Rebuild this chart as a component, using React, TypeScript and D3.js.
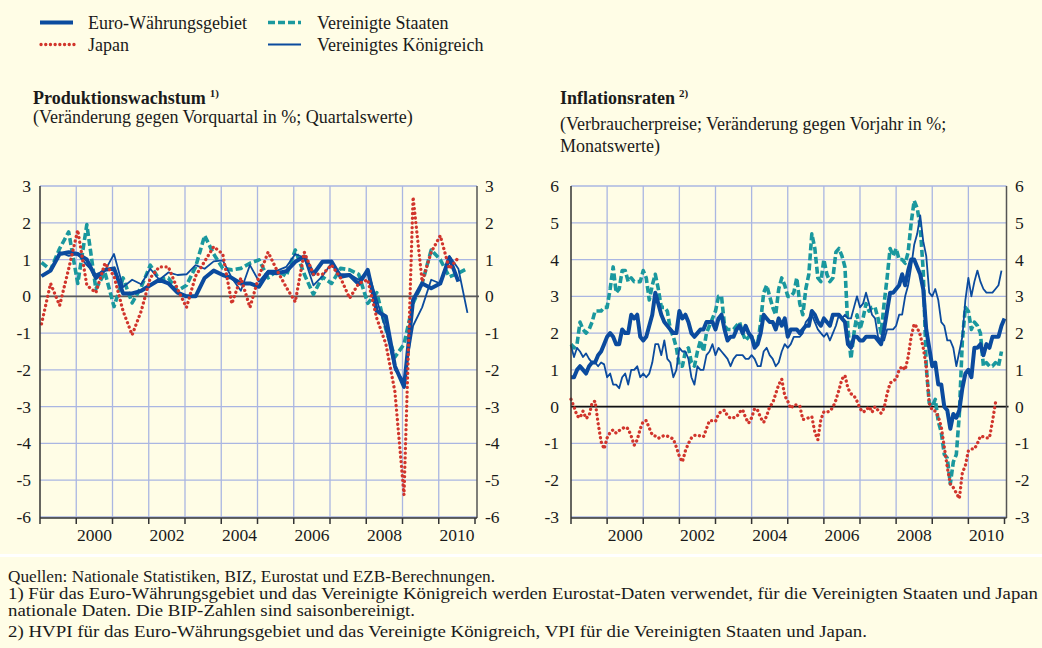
import React from 'react';
import * as d3 from 'd3';

// Quarterly output growth, % q/q, from 1999 Q1
const euroGdp = [
  0.55, 0.7, 1.15, 1.2, 1.15, 1.0, 0.5, 0.72, 0.76, 0.08, 0.08, 0.15,
  0.3, 0.45, 0.35, 0.1, 0.0, 0.0, 0.5, 0.7, 0.58, 0.5, 0.35, 0.35,
  0.26, 0.65, 0.63, 0.68, 0.94, 1.08, 0.6, 0.94, 0.95, 0.53, 0.58, 0.33,
  0.72, -0.4, -0.55, -1.9, -2.46, -0.1, 0.35, 0.22, 0.35, 1.05, 0.4
];
const japanGdp = [
  -0.75, 0.35, -0.25, 0.75, 1.8, 0.3, 0.1, 0.9, 0.55, -0.4, -1.05, -0.4,
  0.5, 0.8, 0.8, 0.2, -0.3, 0.55, 0.95, 1.35, 1.15, -0.2, 0.5, -0.3,
  0.55, 1.2, 0.7, 0.25, -0.15, 1.2, 0.6, 0.6, 0.85, 0.5, -0.05, 0.35,
  0.45, -0.6, -1.3, -2.6, -5.4, 2.7, 0.4, 1.2, 1.65, 0.75, 1.05
];
const usGdp = [
  0.92, 0.72, 1.3, 1.75, 0.35, 1.95, 0.2, 0.65, -0.28, 0.5, -0.18, 0.25,
  0.85, 0.45, 0.5, 0.15, 0.3, 0.8, 1.65, 1.15, 0.76, 0.72, 0.76, 0.9,
  0.99, 0.5, 0.7, 0.55, 1.26, 0.6, 0.05, 0.53, 0.35, 0.76, 0.72, 0.6,
  -0.19, 0.1, -0.9, -1.65, -1.3, -0.19, 0.35, 1.26, 1.0, 0.53, 0.63, 0.76
];
const ukGdp = [
  0.55, 0.7, 1.2, 1.1, 1.15, 0.85, 0.6, 0.7, 1.15, 0.25, 0.45, 0.33,
  0.75, 0.45, 0.65, 0.58, 0.6, 0.85, 0.75, 0.95, 0.98, 0.5, 0.15, 0.85,
  0.4, 0.7, 0.7, 0.8, 1.15, 1.05, 0.3, 0.55, 0.9, 0.6, 0.6, 0.45,
  0.7, -0.1, -0.9, -2.0, -2.3, -0.8, -0.3, 0.45, 0.35, 1.1, 0.75, -0.45
];

// Monthly consumer price inflation, % y/y, from Jan 1999
const euroCpi = [
  0.8, 0.8, 1.0, 1.1, 1.0, 0.9, 1.1, 1.2, 1.2, 1.4, 1.5, 1.7,
  1.9, 2.0, 1.9, 1.7, 1.7, 2.1, 2.0, 2.0, 2.5, 2.4, 2.5, 1.9,
  1.8, 1.9, 2.2, 2.5, 3.1, 2.8, 2.5, 2.3, 2.2, 2.1, 2.0, 2.0,
  2.6, 2.4, 2.5, 2.3, 2.0, 1.9, 2.0, 2.1, 2.1, 2.3, 2.3, 2.3,
  2.1, 2.4, 2.5, 2.1, 1.8, 1.9, 1.9, 2.1, 2.2, 2.0, 2.2, 2.0,
  1.9, 1.6, 1.7, 2.0, 2.5, 2.4, 2.3, 2.3, 2.1, 2.4, 2.2, 2.4,
  1.9, 2.1, 2.1, 2.1, 2.0, 2.1, 2.2, 2.2, 2.6, 2.5, 2.3, 2.2,
  2.4, 2.3, 2.2, 2.5, 2.5, 2.5, 2.4, 2.3, 1.7, 1.6, 1.9, 1.9,
  1.8, 1.8, 1.9, 1.9, 1.9, 1.9, 1.8, 1.7, 2.1, 2.6, 3.1, 3.1,
  3.2, 3.3, 3.6, 3.3, 3.7, 4.0, 4.0, 3.8, 3.6, 3.2, 2.1, 1.6,
  1.1, 1.2, 0.6, 0.6, 0.0, -0.1, -0.6, -0.2, -0.3, -0.1, 0.5, 0.9,
  1.0, 0.8, 1.6, 1.6, 1.7, 1.4, 1.7, 1.6, 1.9, 1.9, 1.9, 2.2,
  2.4
];
const japanCpi = [
  0.2, 0.0, -0.25, -0.3, -0.12, -0.32, -0.25, 0.1, 0.15, -0.45, -0.95, -1.15,
  -0.85, -0.7, -0.63, -0.72, -0.65, -0.6, -0.55, -0.6, -0.8, -1.05, -0.9, -0.6,
  -0.4, -0.38, -0.58, -0.77, -0.8, -0.86, -0.82, -0.78, -0.8, -0.84, -0.88, -1.1,
  -1.35, -1.5, -1.2, -1.0, -0.85, -0.78, -0.77, -0.8, -0.82, -0.6, -0.38, -0.38,
  -0.4, -0.2, -0.12, -0.1, -0.25, -0.32, -0.3, -0.28, -0.15, -0.08, -0.3, -0.45,
  -0.3, -0.05, -0.1, -0.3, -0.43, -0.25, 0.0, 0.1, 0.35, 0.6, 0.75, 0.3,
  0.15, -0.05, 0.05, 0.05, 0.02, -0.35, -0.33, -0.3, -0.27, -0.7, -0.9, -0.35,
  -0.14, -0.15, -0.12, -0.02, 0.18, 0.45, 0.75, 0.85, 0.5, 0.35, 0.3, 0.15,
  -0.05, -0.15, -0.1, 0.0, -0.15, 0.0, -0.1, -0.18, -0.04, 0.35, 0.64, 0.7,
  0.75, 1.0, 1.1, 1.0, 1.35, 1.9, 2.25, 2.15, 1.95, 1.6, 1.1, 0.1,
  -0.1, -0.12, -0.27, -0.55, -1.1, -1.65, -2.1, -2.2, -2.35, -2.5, -1.8, -1.6,
  -1.2, -1.15, -1.15, -1.0, -0.8, -0.82, -0.85, -0.85, -0.4, 0.1, 0.15
];
const usCpi = [
  1.7, 1.6, 1.7, 2.3, 2.1, 2.0, 2.1, 2.3, 2.6, 2.6, 2.6, 2.7,
  2.7, 3.2, 3.8, 3.1, 3.2, 3.7, 3.7, 3.4, 3.5, 3.4, 3.4, 3.4,
  3.7, 3.5, 2.9, 3.3, 3.6, 3.2, 2.7, 2.7, 2.6, 2.1, 1.9, 1.6,
  1.1, 1.1, 1.5, 1.6, 1.2, 1.1, 1.5, 1.8, 1.5, 2.0, 2.2, 2.4,
  2.6, 3.0, 3.0, 2.2, 2.1, 2.1, 2.1, 2.2, 2.3, 2.0, 1.8, 1.9,
  1.9, 1.7, 1.7, 2.3, 3.1, 3.3, 3.0, 2.7, 2.5, 3.2, 3.5, 3.3,
  3.0, 3.0, 3.1, 3.5, 2.8, 2.5, 3.2, 3.6, 4.7, 4.3, 3.5, 3.4,
  4.0, 3.6, 3.4, 3.5, 4.2, 4.3, 4.1, 3.8, 2.1, 1.3, 2.0, 2.5,
  2.1, 2.4, 2.8, 2.6, 2.7, 2.7, 2.4, 2.0, 2.8, 3.5, 4.3, 4.1,
  4.3, 4.0, 4.0, 3.9, 4.2, 5.0, 5.6, 5.4, 4.9, 3.7, 1.1, 0.1,
  0.0, 0.2, -0.4, -0.7, -1.3, -1.4, -2.1, -1.5, -1.3, -0.2, 1.8, 2.7,
  2.6, 2.1, 2.3, 2.2, 2.0, 1.1, 1.2, 1.1, 1.1, 1.2, 1.1, 1.5
];
const ukCpi = [
  1.65, 1.35, 1.6, 1.5, 1.35, 1.45, 1.3, 1.2, 1.2, 1.1, 1.2, 1.15,
  0.8, 0.9, 0.6, 0.6, 0.5, 0.8, 0.9, 0.6, 1.0, 1.0, 1.1, 0.8,
  0.9, 0.8, 0.9, 1.2, 1.7, 1.7, 1.4, 1.8, 1.3, 1.2, 0.8, 1.0,
  1.6, 1.5, 1.5, 1.3, 0.8, 0.6, 1.1, 1.0, 1.0, 1.4, 1.5, 1.7,
  1.4, 1.6, 1.5, 1.4, 1.3, 1.1, 1.3, 1.4, 1.4, 1.4, 1.3, 1.3,
  1.4, 1.3, 1.1, 1.1, 1.5, 1.6, 1.4, 1.3, 1.1, 1.2, 1.5, 1.7,
  1.6, 1.7, 1.9, 1.9, 1.9, 2.0, 2.3, 2.4, 2.5, 2.3, 2.1, 2.0,
  1.9, 2.0, 1.8, 2.0, 2.2, 2.5, 2.4, 2.5, 2.4, 2.4, 2.7, 3.0,
  2.7, 2.8, 3.1, 2.8, 2.5, 2.4, 1.9, 1.8, 1.8, 2.1, 2.1, 2.1,
  2.2, 2.5, 2.5, 3.0, 3.3, 3.8, 4.4, 4.7, 5.2, 4.5, 4.1, 3.1,
  3.0, 3.2, 2.9, 2.3, 2.2, 1.8, 1.8, 1.6, 1.1, 1.5, 1.9, 2.9,
  3.5, 3.0, 3.4, 3.7, 3.4, 3.2, 3.1, 3.1, 3.1, 3.2, 3.3, 3.7
];

const yearLabels = [2000, 2002, 2004, 2006, 2008, 2010];
const gdpTicks = [3, 2, 1, 0, -1, -2, -3, -4, -5, -6];
const cpiTicks = [6, 5, 4, 3, 2, 1, 0, -1, -2, -3];

const legendNames = ['Euro-Währungsgebiet', 'Japan', 'Vereinigte Staaten', 'Vereinigtes Königreich'];
const footnotes = [
  'Quellen: Nationale Statistiken, BIZ, Eurostat und EZB-Berechnungen.',
  '1) Für das Euro-Währungsgebiet und das Vereinigte Königreich werden Eurostat-Daten verwendet, für die Vereinigten Staaten und Japan',
  'nationale Daten. Die BIP-Zahlen sind saisonbereinigt.',
  '2) HVPI für das Euro-Währungsgebiet und das Vereinigte Königreich, VPI für die Vereinigten Staaten und Japan.'
];

const BG = '#fffde6';
const BLUE = '#0b4b9e';
const TEAL = '#1a989e';
const RED = '#d1352c';
const GRID = '#aab6e2';
const INK = '#1a1a1a';
const FONT = '"Liberation Serif", "Times New Roman", serif';

const TOP = 186;
const BOTTOM = 517;

const styles = {
  euro: { stroke: BLUE, width: 4, dash: null, cap: 'butt' },
  uk: { stroke: BLUE, width: 1.8, dash: null, cap: 'butt' },
  us: { stroke: TEAL, width: 3.6, dash: '7 3', cap: 'butt' },
  jp: { stroke: RED, width: 3.3, dash: '0.1 4.6', cap: 'round' }
};

const quarterT = i => 1999 + i / 4 + 1 / 24;
const monthT = i => 1999 + i / 12;

const Chart = ({ x0, x1, ticks, series, tFn, zeroColor, leftLab, rightLab }) => {
  const x = d3.scaleLinear().domain([1999, 2011]).range([x0, x1]);
  const y = d3.scaleLinear().domain([d3.min(ticks), d3.max(ticks)]).range([BOTTOM, TOP]);
  const axisR = x1 + 2;
  const years = d3.range(1999, 2012);
  const line = d3.line().x((d, i) => x(tFn(i))).y(d => y(d));

  return (
    <g>
      {/* grid */}
      {ticks.map(v => (
        <line key={'h' + v} x1={x0} x2={axisR} y1={y(v)} y2={y(v)} stroke={GRID} strokeWidth={1.3} />
      ))}
      {years.slice(1, -1).map(yr => (
        <line key={'v' + yr} x1={x(yr)} x2={x(yr)} y1={TOP} y2={BOTTOM} stroke={GRID} strokeWidth={1.3} />
      ))}
      <line x1={x0} x2={axisR + 2} y1={y(0)} y2={y(0)} stroke={zeroColor} strokeWidth={1.6} />

      {/* series */}
      {series.map(s => (
        <path key={s.key} d={line(s.values)} fill="none" stroke={styles[s.key].stroke}
          strokeWidth={styles[s.key].width} strokeDasharray={styles[s.key].dash || undefined}
          strokeLinecap={styles[s.key].cap} strokeLinejoin="round" />
      ))}

      {/* axes */}
      <line x1={x0} x2={x0} y1={TOP} y2={BOTTOM + 1} stroke="#333" strokeWidth={1.5} />
      <line x1={axisR} x2={axisR} y1={TOP} y2={BOTTOM + 1} stroke="#555" strokeWidth={1.5} />
      <line x1={x0} x2={axisR} y1={BOTTOM + 1} y2={BOTTOM + 1} stroke="#333" strokeWidth={1.5} />
      {years.map(yr => (
        <line key={'t' + yr} x1={x(yr)} x2={x(yr)} y1={BOTTOM + 1} y2={BOTTOM + 7} stroke="#333" strokeWidth={1.5} />
      ))}
      {yearLabels.map(yr => (
        <text key={'l' + yr} x={x(yr + 0.5)} y={541} textAnchor="middle" fontSize={17.5} fill={INK}>{yr}</text>
      ))}
      {ticks.map(v => (
        <text key={'yl' + v} x={leftLab} y={y(v) + 6} textAnchor="end" fontSize={17.5} fill={INK}>{v}</text>
      ))}
      {ticks.map(v => (
        <text key={'yr' + v} x={rightLab} y={y(v) + 6} textAnchor="start" fontSize={17.5} fill={INK}>{v}</text>
      ))}
    </g>
  );
};

const LegendSample = ({ k, x, y }) => (
  <line x1={x} x2={x + 33} y1={y} y2={y} stroke={styles[k].stroke} strokeWidth={styles[k].width}
    strokeDasharray={styles[k].dash || undefined} strokeLinecap={styles[k].cap} />
);

const App = () => {
  const gdpSeries = [
    { key: 'us', values: usGdp },
    { key: 'uk', values: ukGdp },
    { key: 'euro', values: euroGdp },
    { key: 'jp', values: japanGdp }
  ];
  const cpiSeries = [
    { key: 'us', values: usCpi },
    { key: 'uk', values: ukCpi },
    { key: 'euro', values: euroCpi },
    { key: 'jp', values: japanCpi }
  ];
  const footLengths = [487, 1030, 407, 859];
  const footY = [582, 599, 616, 637];

  return (
    <svg width={1042} height={648} viewBox="0 0 1042 648"
      style={{ position: 'absolute', left: 0, top: 0, fontFamily: FONT }}>
      <rect width={1042} height={648} fill={BG} />

      {/* legend */}
      <LegendSample k="euro" x={40} y={22.5} />
      <LegendSample k="jp" x={41} y={44.5} />
      <LegendSample k="us" x={268} y={22.5} />
      <LegendSample k="uk" x={268} y={44.5} />
      <text x={88} y={29} fontSize={18} fill={INK}>{legendNames[0]}</text>
      <text x={88} y={51} fontSize={18} fill={INK}>{legendNames[1]}</text>
      <text x={317} y={29} fontSize={18} fill={INK}>{legendNames[2]}</text>
      <text x={317} y={51} fontSize={18} fill={INK}>{legendNames[3]}</text>

      {/* titles */}
      <text x={33} y={104} fontSize={18} fontWeight="bold" fill={INK}>
        Produktionswachstum<tspan fontSize={11} dy={-7} dx={4}>1)</tspan>
      </text>
      <text x={33} y={123} fontSize={18} fill={INK}>(Veränderung gegen Vorquartal in %; Quartalswerte)</text>
      <text x={560} y={104} fontSize={18} fontWeight="bold" fill={INK}>
        Inflationsraten<tspan fontSize={11} dy={-7} dx={4}>2)</tspan>
      </text>
      <text x={560} y={130} fontSize={18} fill={INK}>(Verbraucherpreise; Veränderung gegen Vorjahr in %;</text>
      <text x={560} y={152} fontSize={18} fill={INK}>Monatswerte)</text>

      <Chart x0={40} x1={475} ticks={gdpTicks} series={gdpSeries} tFn={quarterT}
        zeroColor="#5a5a5a" leftLab={31} rightLab={485} />
      <Chart x0={571} x1={1004.5} ticks={cpiTicks} series={cpiSeries} tFn={monthT}
        zeroColor="#111" leftLab={559} rightLab={1015} />

      {/* footer */}
      <rect x={0} y={554} width={1042} height={3} fill="#ffffff" />
      {footnotes.map((t, i) => (
        <text key={i} x={8} y={footY[i]} fontSize={16} fill={INK}
          textLength={footLengths[i]} lengthAdjust="spacingAndGlyphs">{t}</text>
      ))}
    </svg>
  );
};

export default App;
